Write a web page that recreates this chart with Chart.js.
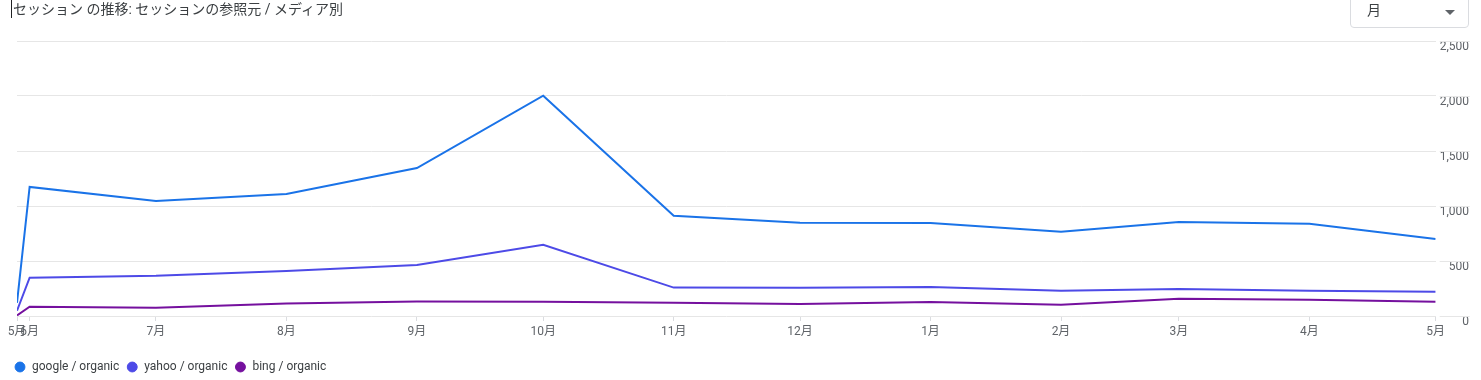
<!DOCTYPE html>
<html lang="ja">
<head>
<meta charset="utf-8">
<script src="https://cdn.jsdelivr.net/npm/chart.js@4.4.1/dist/chart.umd.min.js"></script>
<style>
  html, body { margin: 0; padding: 0; background: #fff; }
  body { width: 1481px; height: 380px; position: relative; overflow: hidden;
         font-family: Roboto, "Noto Sans CJK JP", sans-serif; }
  #title { position: absolute; left: 11px; top: 0px; height: 18px; line-height: 18px;
           font-size: 14px; color: #3c4043; border-left: 1px solid #202124; padding-left: 1px;
           white-space: nowrap; }
  #dd { position: absolute; left: 1350px; top: -6px; width: 119px; height: 34px;
        border: 1px solid #dadce0; border-radius: 4px; box-sizing: border-box; }
  #dd span { position: absolute; left: 16px; top: 5px; font-size: 14px; color: #3c4043; line-height: 20px; }
  #dd i { position: absolute; left: 94px; top: 15px; width: 0; height: 0;
          border-left: 5px solid transparent; border-right: 5px solid transparent; border-top: 5px solid #5f6368; }
  #wrap { position: absolute; left: 0; top: 0; width: 1481px; height: 380px; }
</style>
</head>
<body>
<div id="wrap"><canvas id="c"></canvas></div>
<div id="title">セッション の推移: セッションの参照元 / メディア別</div>
<div id="dd"><span>月</span><i></i></div>
<script>
// Category labels and their day offsets from the first data point
const monthLabels = ["5月", "6月", "7月", "8月", "9月", "10月", "11月", "12月", "1月", "2月", "3月", "4月", "5月"];
const dayOffsets  = [0, 3, 33, 64, 95, 125, 156, 186, 217, 248, 276, 307, 337];

const seriesNames = ["google / organic", "yahoo / organic", "bing / organic"];
const googleValues = [120, 1173, 1045, 1109, 1345, 2003, 912, 848, 845, 766, 855, 839, 700];
const yahooValues  = [48, 348, 365, 409, 464, 648, 258, 256, 264, 230, 245, 230, 221];
const bingValues   = [5, 85, 76, 114, 132, 130, 121, 109, 127, 103, 157, 148, 130];

const yTicks = [0, 500, 1000, 1500, 2000, 2500];
const seriesColors = ["#1a73e8", "#4d4ae7", "#75109e"];

function pts(vals) { return vals.map((v, i) => ({ x: dayOffsets[i], y: v })); }

const gridColor = "#e6e6e6";

const yTickMarks = {
  id: "yTickMarks",
  afterDraw(chart) {
    const y = chart.scales.y, ctx = chart.ctx, r = chart.chartArea.right;
    ctx.save();
    ctx.strokeStyle = gridColor; ctx.lineWidth = 1;
    y.ticks.forEach(t => {
      const py = Math.round(y.getPixelForValue(t.value)) + 0.5;
      ctx.beginPath(); ctx.moveTo(r + 4, py); ctx.lineTo(r + 34, py); ctx.stroke();
    });
    ctx.restore();
  }
};

new Chart(document.getElementById("c"), {
  type: "line",
  data: {
    datasets: [
      { label: seriesNames[0], data: pts(googleValues), borderColor: seriesColors[0], backgroundColor: seriesColors[0] },
      { label: seriesNames[1], data: pts(yahooValues),  borderColor: seriesColors[1], backgroundColor: seriesColors[1] },
      { label: seriesNames[2], data: pts(bingValues),   borderColor: seriesColors[2], backgroundColor: seriesColors[2] }
    ]
  },
  options: {
    responsive: true,
    maintainAspectRatio: false,
    animation: false,
    layout: { padding: { left: 7, right: 12, top: 41, bottom: -3 } },
    elements: { line: { borderWidth: 2, tension: 0 }, point: { radius: 0, hoverRadius: 0 } },
    scales: {
      x: {
        type: "linear",
        min: dayOffsets[0], max: dayOffsets[dayOffsets.length - 1],
        afterBuildTicks(scale) { scale.ticks = dayOffsets.map(v => ({ value: v })); },
        afterFit(scale) { scale.height = 38; },
        ticks: {
          autoSkip: false, maxRotation: 0, padding: 4,
          color: "#5f6368",
          font: { family: "Roboto, 'Noto Sans CJK JP'", size: 12 },
          callback(value) { const i = dayOffsets.indexOf(value); return i >= 0 ? monthLabels[i] : ""; }
        },
        grid: { drawOnChartArea: false, drawTicks: true, tickLength: 5, color: "#dadce0" },
        border: { display: false }
      },
      y: {
        position: "right",
        min: 0, max: 2500,
        afterBuildTicks(scale) { scale.ticks = yTicks.map(v => ({ value: v })); },
        ticks: {
          crossAlign: "far", padding: 2, labelOffset: 6,
          color: "#5f6368",
          font: { family: "Roboto, 'Noto Sans CJK JP'", size: 12 },
          callback(value) { return value.toLocaleString("en-US"); }
        },
        grid: { drawTicks: false, color: gridColor },
        border: { display: false }
      },
      ySpacer: {
        position: "left", display: true,
        afterFit(scale) { scale.width = 10; },
        ticks: { display: false },
        grid: { display: false },
        border: { display: false }
      }
    },
    plugins: {
      legend: {
        position: "bottom", align: "start",
        labels: {
          usePointStyle: true, pointStyle: "circle", boxWidth: 15, boxHeight: 7,
          padding: 7, color: "#3c4043",
          font: { family: "Roboto, 'Noto Sans CJK JP'", size: 12 }
        }
      },
      tooltip: { enabled: false }
    }
  },
  plugins: [yTickMarks]
});
</script>
</body>
</html>
